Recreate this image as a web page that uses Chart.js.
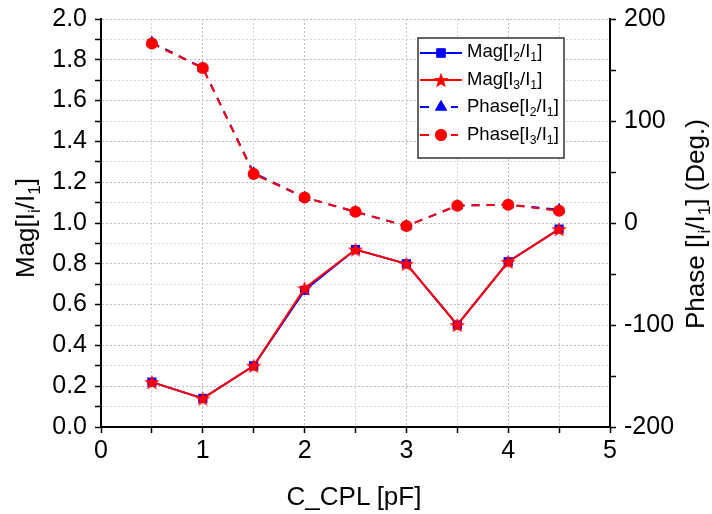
<!DOCTYPE html>
<html>
<head>
<meta charset="utf-8">
<script src="https://cdn.jsdelivr.net/npm/chart.js@4.4.0/dist/chart.umd.min.js"></script>
<style>
  body { margin: 0; background: #fff; }
  #wrap { position: relative; width: 712px; height: 514px; font-family: Arial, "Liberation Sans", sans-serif; color: #000; }
  #wrap canvas { position: absolute; left: 0; top: 0; }
  .lbl { position: absolute; white-space: nowrap; line-height: 1; }
  .lbl sub { font-size: 0.66em; vertical-align: -0.35em; line-height: 0; }
  .title { font-size: 26px; }
  .leg { font-size: 18.5px; left: 467px; }
</style>
</head>
<body>
<div id="wrap">
  <canvas id="chart" width="712" height="514"></canvas>
  <div class="lbl title" style="left:354px; top:483px; transform:translateX(-50%);">C_CPL [pF]</div>
  <div class="lbl title" style="left:25px; top:228px; transform:translate(-50%,-50%) rotate(-90deg);">Mag[I<sub>i</sub>/I<sub>1</sub>]</div>
  <div class="lbl title" style="left:695px; top:224px; transform:translate(-50%,-50%) rotate(-90deg);">Phase [I<sub>i</sub>/I<sub>1</sub>] (Deg.)</div>
  <div class="lbl leg" style="top:42px;">Mag[I<sub>2</sub>/I<sub>1</sub>]</div>
  <div class="lbl leg" style="top:70px;">Mag[I<sub>3</sub>/I<sub>1</sub>]</div>
  <div class="lbl leg" style="top:97px;">Phase[I<sub>2</sub>/I<sub>1</sub>]</div>
  <div class="lbl leg" style="top:125px;">Phase[I<sub>3</sub>/I<sub>1</sub>]</div>
</div>
<script>
// capacitance values (pF)
const cplValues = [0.5, 1, 1.5, 2, 2.5, 3, 3.5, 4, 4.5];

// magnitudes, left axis
const magI2 = [0.22, 0.14, 0.30, 0.67, 0.87, 0.80, 0.50, 0.81, 0.97];
const magI3 = [0.22, 0.14, 0.30, 0.68, 0.87, 0.80, 0.50, 0.81, 0.97];

// phases in degrees, right axis
const phaseI2 = [177, 152, 49, 25, 11, -3, 17, 18, 13];
const phaseI3 = [176, 152, 48, 25, 11, -3, 17, 18, 12];

const BLUE = "#0000ff";
const RED = "#ff0000";

// filled five point star (Chart.js "star" is only an asterisk)
function makeStar(r, color) {
    const c = document.createElement("canvas");
    const s = Math.ceil(r * 2 + 2);
    c.width = s; c.height = s;
    const g = c.getContext("2d");
    g.fillStyle = color;
    g.beginPath();
    for (let i = 0; i < 10; i++) {
        const rad = i % 2 === 0 ? r : r * 0.42;
        const a = -Math.PI / 2 + i * Math.PI / 5;
        const px = s / 2 + Math.cos(a) * rad;
        const py = s / 2 + Math.sin(a) * rad + 0.8;
        if (i === 0) g.moveTo(px, py); else g.lineTo(px, py);
    }
    g.closePath();
    g.fill();
    return c;
}
const starImg = makeStar(8, RED);

const pts = ys => cplValues.map((x, i) => ({ x: x, y: ys[i] }));

// legend box drawn inside the plot
const legendBox = {
    id: "legendBox",
    afterDraw(chart) {
        const ctx = chart.ctx;
        ctx.save();
        ctx.fillStyle = "#fff";
        ctx.fillRect(418, 38, 146, 120);
        ctx.strokeStyle = "#333";
        ctx.lineWidth = 1.5;
        ctx.strokeRect(418, 38, 146, 120);

        const rows = [53, 80, 107, 135];
        chart.data.datasets.forEach((ds, i) => {
            const y = rows[i];
            ctx.strokeStyle = ds.borderColor;
            ctx.lineWidth = 2;
            ctx.beginPath();
            if (ds.borderDash) {
                ctx.moveTo(420, y); ctx.lineTo(429, y);
                ctx.moveTo(451, y); ctx.lineTo(458, y);
            } else {
                ctx.moveTo(420, y); ctx.lineTo(462, y);
            }
            ctx.stroke();
            if (ds.pointStyle === starImg) {
                ctx.drawImage(starImg, 441 - starImg.width / 2, y - starImg.height / 2);
            } else {
                ctx.fillStyle = ds.pointBackgroundColor;
                Chart.helpers.drawPoint(ctx, {
                    pointStyle: ds.pointStyle,
                    radius: ds.pointRadius,
                    rotation: 0,
                    borderWidth: 0
                }, 441, y);
                ctx.fill();
            }
        });
        ctx.restore();
    }
};

const tickFont = { family: "Arial, 'Liberation Sans'", size: 25 };

new Chart(document.getElementById("chart"), {
    type: "line",
    data: {
        datasets: [
            {
                label: "Mag[I2/I1]",
                data: pts(magI2),
                yAxisID: "y",
                borderColor: BLUE,
                borderWidth: 2,
                pointStyle: "rect",
                pointRadius: 6.5,
                pointBackgroundColor: BLUE,
                pointBorderWidth: 0,
                order: 2
            },
            {
                label: "Mag[I3/I1]",
                data: pts(magI3),
                yAxisID: "y",
                borderColor: RED,
                borderWidth: 2,
                pointStyle: starImg,
                pointRadius: 8,
                pointBackgroundColor: RED,
                pointBorderWidth: 0,
                order: 1
            },
            {
                label: "Phase[I2/I1]",
                data: pts(phaseI2),
                yAxisID: "y2",
                borderColor: BLUE,
                borderWidth: 2,
                borderDash: [8, 7],
                pointStyle: "triangle",
                pointRadius: 7,
                pointBackgroundColor: BLUE,
                pointBorderWidth: 0,
                order: 2
            },
            {
                label: "Phase[I3/I1]",
                data: pts(phaseI3),
                yAxisID: "y2",
                borderColor: RED,
                borderWidth: 2,
                borderDash: [8, 7],
                pointStyle: "circle",
                pointRadius: 6,
                pointBackgroundColor: RED,
                pointBorderWidth: 0,
                order: 1
            }
        ]
    },
    options: {
        responsive: false,
        animation: false,
        layout: { padding: { top: 19, left: 0, right: 0, bottom: 0 } },
        plugins: {
            legend: { display: false },
            tooltip: { enabled: false }
        },
        scales: {
            x: {
                type: "linear",
                min: 0,
                max: 5,
                afterFit: s => { s.height = 87; s.paddingLeft = 0; s.paddingRight = 0; },
                ticks: {
                    stepSize: 0.5,
                    autoSkip: false,
                    maxRotation: 0,
                    color: "#000",
                    font: tickFont,
                    padding: 3,
                    callback: v => Number.isInteger(v) ? v : ""
                },
                grid: {
                    color: c => Number.isInteger(c.tick.value) ? "#bdbdbd" : "#d4d4d4",
                    lineWidth: 1,
                    tickColor: "#000",
                    tickLength: 6,
                    tickWidth: 1.5
                },
                border: { color: "#000", width: 2, dash: [2, 2] }
            },
            y: {
                position: "left",
                min: 0,
                max: 2,
                afterFit: s => { s.width = 101; s.paddingTop = 0; s.paddingBottom = 0; },
                ticks: {
                    stepSize: 0.1,
                    autoSkip: false,
                    color: "#000",
                    font: tickFont,
                    padding: 8,
                    callback: v => Math.round(v * 10) % 2 === 0 ? v.toFixed(1) : ""
                },
                grid: {
                    color: c => Math.round(c.tick.value * 10) % 2 === 0 ? "#bdbdbd" : "#d4d4d4",
                    lineWidth: 1,
                    tickColor: "#000",
                    tickLength: 6,
                    tickWidth: 1.5
                },
                border: { color: "#000", width: 2, dash: [2, 2] }
            },
            y2: {
                position: "right",
                min: -200,
                max: 200,
                afterFit: s => { s.width = 102; s.paddingTop = 0; s.paddingBottom = 0; },
                ticks: {
                    stepSize: 50,
                    autoSkip: false,
                    color: "#000",
                    font: tickFont,
                    padding: 8,
                    callback: v => v % 100 === 0 ? v : ""
                },
                grid: {
                    drawOnChartArea: false,
                    tickColor: "#000",
                    tickLength: 6,
                    tickWidth: 1.5
                },
                border: { color: "#000", width: 2 }
            }
        }
    },
    plugins: [legendBox]
});
</script>
</body>
</html>
